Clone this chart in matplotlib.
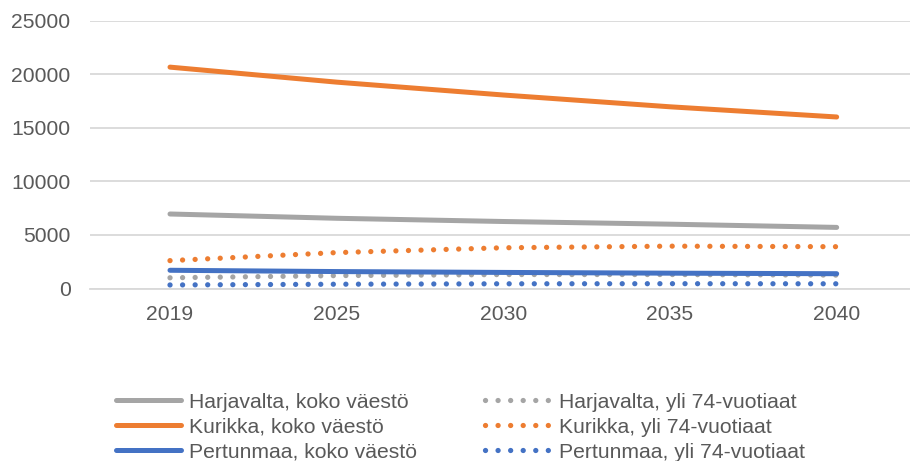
import matplotlib.pyplot as plt
from matplotlib.lines import Line2D

# Datos
years = ['2019', '2025', '2030', '2035', '2040']
harjavalta_koko = [6950, 6550, 6250, 6000, 5700]
kurikka_koko = [20650, 19250, 18050, 16950, 16000]
pertunmaa_koko = [1700, 1580, 1500, 1430, 1380]
harjavalta_yli74 = [1000, 1200, 1300, 1300, 1250]
kurikka_yli74 = [2600, 3350, 3800, 3950, 3900]
pertunmaa_yli74 = [330, 400, 440, 450, 440]

labels_koko = ['Harjavalta, koko väestö', 'Kurikka, koko väestö', 'Pertunmaa, koko väestö']
labels_yli = ['Harjavalta, yli 74-vuotiaat', 'Kurikka, yli 74-vuotiaat', 'Pertunmaa, yli 74-vuotiaat']
colors = ['#a5a5a5', '#ed7d31', '#4472c4']

plt.rcParams['font.family'] = ['Liberation Sans', 'DejaVu Sans']
fs = 15.2
txt = '#595959'
grid = '#d9d9d9'
lw_sol = 3.6
lw_dot = 3.8
dots = (0, (0.01, 2.37))

fig = plt.figure(figsize=(9.10, 4.61), dpi=100)
ax = fig.add_axes([90 / 910, (461 - 288.5) / 461, 1 - 90 / 910, 268 / 461])

x = range(len(years))

# Primero las lineas punteadas, despues las continuas encima
ax.plot(x, harjavalta_yli74, color=colors[0], lw=lw_dot, ls=dots, dash_capstyle='round')
ax.plot(x, kurikka_yli74, color=colors[1], lw=lw_dot, ls=dots, dash_capstyle='round')
ax.plot(x, pertunmaa_yli74, color=colors[2], lw=lw_dot, ls=dots, dash_capstyle='round')
ax.plot(x, harjavalta_koko, color=colors[0], lw=lw_sol, solid_capstyle='round')
ax.plot(x, kurikka_koko, color=colors[1], lw=lw_sol, solid_capstyle='round')
ax.plot(x, pertunmaa_koko, color=colors[2], lw=lw_sol, solid_capstyle='round')

ax.set_xlim(-0.48, 4.44)
ax.set_ylim(0, 25000)
ax.set_xticks(list(x))
ax.set_xticklabels(years)
ax.set_yticks(range(0, 25001, 5000))
ax.yaxis.grid(True, color=grid, lw=1.3)
ax.set_axisbelow(True)
for s in ['top', 'right', 'left']:
    ax.spines[s].set_visible(False)
ax.spines['bottom'].set_color(grid)
ax.spines['bottom'].set_linewidth(1.3)
ax.tick_params(axis='both', length=0, labelsize=fs, labelcolor=txt)
ax.tick_params(axis='y', pad=14)
ax.tick_params(axis='x', pad=12)

# Leyenda en dos columnas
handles = []
for c in colors:
    handles.append(Line2D([], [], color=c, lw=lw_sol, solid_capstyle='round'))
for c in colors:
    handles.append(Line2D([], [], color=c, lw=lw_dot, ls=dots, dash_capstyle='round'))
leg = fig.legend(handles, labels_koko + labels_yli, ncol=2, loc='upper left',
                 bbox_to_anchor=(115.5 / 910, 1 - 392.5 / 461), frameon=False,
                 fontsize=fs, labelcolor=txt, handlelength=3.08, handletextpad=0.42,
                 columnspacing=3.2, labelspacing=0.29, borderpad=0, borderaxespad=0)

plt.savefig('out.png', dpi=100)
